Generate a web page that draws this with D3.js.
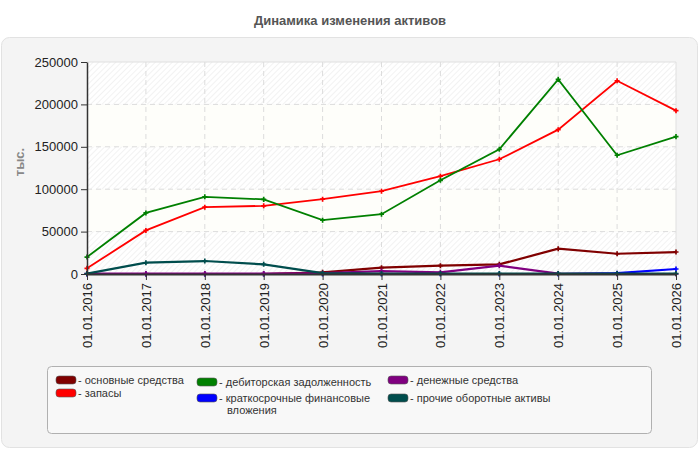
<!DOCTYPE html>
<html>
<head>
<meta charset="utf-8">
<script src="https://cdn.jsdelivr.net/npm/d3@7"></script>
<style>
body{margin:0;background:#fff;font-family:"Liberation Sans",Arial,sans-serif;}
.grid line{stroke:#dcdcdc;stroke-dasharray:5,4;}
.axis path,.axis line{stroke:#333;}
.axis text{fill:#222;font-size:13px;}
</style>
</head>
<body>
<script>
//chart data
var dates=["01.01.2016","01.01.2017","01.01.2018","01.01.2019","01.01.2020","01.01.2021",
	"01.01.2022","01.01.2023","01.01.2024","01.01.2025","01.01.2026"];
var seriesNames=["основные средства","запасы","дебиторская задолженность",
	"краткосрочные финансовые вложения","денежные средства","прочие оборотные активы"];
var seriesColors=["#800000","#ff0000","#008000","#0000ff","#800080","#004d4d"];
var fixedAssets=[0,0,0,0,2000,7500,9800,11400,29800,23900,25900];
var inventory=[6700,51400,78800,80400,88200,97600,115300,135300,170200,227900,192600];
var receivables=[20000,72000,91000,88000,63500,70500,110500,147000,229500,140000,162000];
var investments=[0,0,0,0,0,0,0,0,0,1000,5900];
var cash=[500,500,500,500,1000,3500,2000,9800,500,0,0];
var otherAssets=[500,13300,15300,11400,1000,500,500,500,500,500,500];
var yTicks=[0,50000,100000,150000,200000,250000];

var allSeries=[fixedAssets,inventory,receivables,investments,cash,otherAssets];

var width=700,height=450;
var margin={left:87,top:62,right:24,bottom:176};

var svg=d3.select("body").append("svg")
	.attr("width",width)
	.attr("height",height);

//pattern for hatched bands
var defs=svg.append("defs");
var pat=defs.append("pattern")
	.attr("id","hatch")
	.attr("patternUnits","userSpaceOnUse")
	.attr("width",4).attr("height",4)
	.attr("patternTransform","rotate(45)");
pat.append("rect").attr("width",4).attr("height",4).attr("fill","#ffffff");
pat.append("line").attr("x1",0).attr("y1",0).attr("x2",0).attr("y2",4)
	.attr("stroke","#efefef").attr("stroke-width",1.6);

//title
svg.append("text")
	.attr("x",350).attr("y",25)
	.attr("text-anchor","middle")
	.style("font-size","13px").style("font-weight","bold").style("fill","#555")
	.text("Динамика изменения активов");

//outer panel
svg.append("rect")
	.attr("x",1.5).attr("y",37.5).attr("width",696).attr("height",410)
	.attr("rx",8)
	.attr("fill","#f4f4f4").attr("stroke","#e2e2e2");

var innerW=width-margin.left-margin.right,
	innerH=height-margin.top-margin.bottom;

var g=svg.append("g").attr("transform","translate("+margin.left+","+margin.top+")");

var x=d3.scalePoint().domain(dates).range([0,innerW]);
var y=d3.scaleLinear().domain([0,250000]).range([innerH,0]);

//background bands
var bands=d3.pairs(yTicks);
g.selectAll(".band")
	.data(bands)
	.enter()
	.append("rect")
	.attr("class","band")
	.attr("x",0)
	.attr("width",innerW)
	.attr("y",function(d){return y(d[1]);})
	.attr("height",function(d){return y(d[0])-y(d[1]);})
	.attr("fill",function(d,i){return i%2==0 ? "url(#hatch)" : "#fefefa";});

//top/right border
g.append("path")
	.attr("d","M0,0H"+innerW+"V"+innerH)
	.attr("fill","none").attr("stroke","#e0e0e0");

//grid lines
g.append("g").attr("class","grid")
	.selectAll("line")
	.data(yTicks.slice(1,-1))
	.enter().append("line")
	.attr("x1",0).attr("x2",innerW)
	.attr("y1",function(d){return y(d);}).attr("y2",function(d){return y(d);});
g.append("g").attr("class","grid")
	.selectAll("line")
	.data(dates.slice(1,-1))
	.enter().append("line")
	.attr("y1",0).attr("y2",innerH)
	.attr("x1",function(d){return x(d);}).attr("x2",function(d){return x(d);});

//lines
var line=d3.line()
	.x(function(d,i){return x(dates[i]);})
	.y(function(d){return y(d);});

allSeries.forEach(function(s,k){
	g.append("path")
		.datum(s)
		.attr("fill","none")
		.attr("stroke",seriesColors[k])
		.attr("stroke-width",k==1||k==2 ? 1.8 : 2.2)
		.attr("d",line);
	//plus markers
	g.selectAll(".m"+k)
		.data(s)
		.enter()
		.append("path")
		.attr("class","m"+k)
		.attr("transform",function(d,i){return "translate("+x(dates[i])+","+y(d)+")";})
		.attr("d",d3.symbol(d3.symbolCross,14))
		.attr("fill",seriesColors[k]);
});

//axes
var yAxis=g.append("g").attr("class","axis")
	.call(d3.axisLeft(y).tickValues(yTicks).tickSize(6).tickSizeOuter(0).tickFormat(d3.format("d")));
yAxis.select(".domain").attr("stroke-width",1.5);

var xAxis=g.append("g").attr("class","axis")
	.attr("transform","translate(0,"+innerH+")")
	.call(d3.axisBottom(x).tickSize(6).tickSizeOuter(0));
xAxis.select(".domain").attr("stroke-width",2);
xAxis.selectAll("text")
	.attr("transform","rotate(-90)")
	.attr("text-anchor","end")
	.attr("x",-9).attr("y",0)
	.attr("dy","0.35em");

//y label
svg.append("text")
	.attr("transform","translate(24,162) rotate(-90)")
	.attr("text-anchor","middle")
	.style("font-size","13px").style("font-weight","bold").style("fill","#888")
	.text("тыс.");

//legend
svg.append("rect")
	.attr("x",47.5).attr("y",366.5).attr("width",604).attr("height",67)
	.attr("rx",4)
	.attr("fill","#f8f8f8").attr("stroke","#b0b0b0");

var legendPos=[[56,380],[56,393],[197,382],[197,398],[388,380],[388,398]];
var legend=svg.selectAll(".legend")
	.data(seriesNames)
	.enter()
	.append("g")
	.attr("class","legend")
	.attr("transform",function(d,i){return "translate("+legendPos[i][0]+","+legendPos[i][1]+")";});
legend.append("rect")
	.attr("x",0).attr("y",-4).attr("width",20).attr("height",8).attr("rx",3)
	.attr("fill",function(d,i){return seriesColors[i];})
	.attr("stroke","#555").attr("stroke-width",0.6);
legend.append("text")
	.attr("x",22).attr("y",0).attr("dy","0.35em")
	.style("font-size","11px").style("fill","#333")
	.each(function(d){
		var t=d3.select(this);
		if(d=="краткосрочные финансовые вложения"){
			t.append("tspan").attr("x",22).text("- краткосрочные финансовые");
			t.append("tspan").attr("x",30).attr("dy","1.1em").text("вложения");
		} else {
			t.text("- "+d);
		}
	});
</script>
</body>
</html>
